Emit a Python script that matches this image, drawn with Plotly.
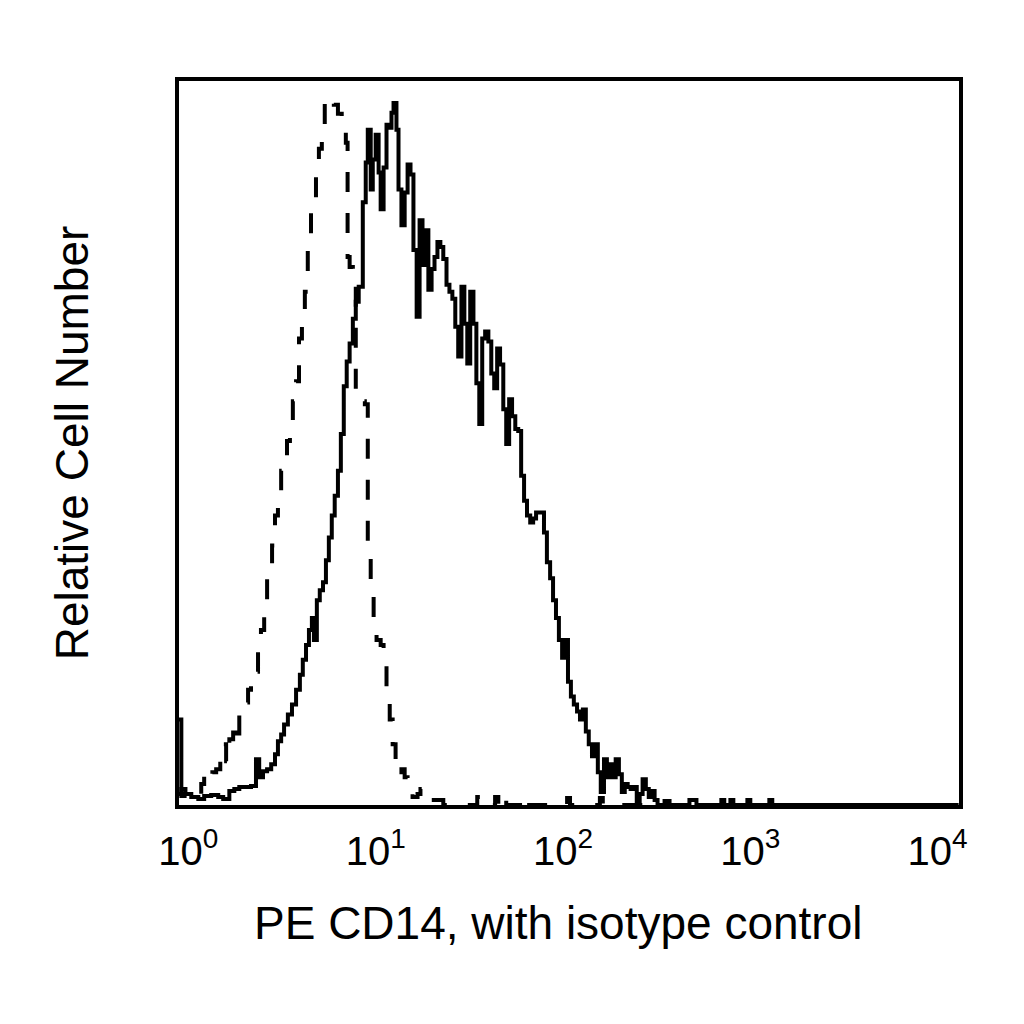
import plotly.graph_objects as go

# histogram channels (256 channels over 4 decades), relative counts
cd14_channel = [-3.4, -2.4, -1.4, 1.0, 3.4, 5.4, 7.8, 10.2, 11.9, 14.0, 15.7, 17.4, 19.7, 21.4,
                23.1, 24.2, 25.5, 26.9, 28.3, 29.6, 30.6, 31.7, 32.7, 34.0, 35.4, 36.8, 38.1,
                39.1, 40.2, 41.2, 42.2, 42.9, 43.9, 44.9, 46.0, 47.0, 48.0, 49.0, 50.0, 51.1,
                52.1, 53.1, 54.1, 55.1, 56.2, 57.2, 58.2, 59.6, 60.6, 61.3, 62.3, 63.0, 64.0,
                65.0, 65.7, 66.7, 67.7, 68.8, 69.4, 70.1, 71.1, 71.8, 72.8, 73.9, 74.9, 75.9,
                76.9, 78.0, 79.0, 80.0, 81.0, 82.0, 83.1, 84.1, 85.1, 86.1, 87.1, 88.2, 89.2,
                90.2, 91.2, 92.2, 93.3, 94.3, 95.3, 96.3, 97.4, 98.4, 99.4, 100.4, 101.4, 102.5,
                103.5, 104.5, 105.5, 106.5, 107.6, 108.6, 109.6, 110.6, 111.7, 112.7, 113.7,
                114.7, 115.7, 116.8, 117.8, 118.8, 120.2, 121.5, 122.5, 123.6, 124.6, 125.6,
                126.6, 127.7, 128.7, 129.7, 130.7, 131.7, 132.8, 133.8, 134.8, 135.8, 136.8,
                137.9, 138.9, 139.9, 140.9, 142.0, 143.0, 144.0, 145.0, 146.0, 147.1, 148.1,
                149.1, 150.1, 151.1, 152.2, 153.2, 154.2, 155.2, 156.3, 157.3, 158.3, 159.3,
                160.3, 162.7, 164.4, 171.2, 173.6, 182.1, 183.1, 185.2, 186.2, 191.0, 192.0,
                198.5, 199.5, 263.1]
cd14_count = [86, 9, 11, 8, 6, 9, 10, 8, 6, 14, 16, 18, 18, 19,
              46, 28, 34, 36, 41, 51, 64, 71, 81, 91, 101, 116, 131,
              146, 161, 176, 188, 166, 206, 216, 224, 246, 269, 291, 311, 336,
              373, 421, 446, 464, 489, 506, 521, 606, 646, 679, 619, 649, 674,
              636, 599, 641, 684, 681, 696, 706, 679, 619, 583, 616, 644, 634,
              558, 491, 588, 543, 578, 518, 539, 551, 566, 561, 549, 523, 516,
              509, 481, 451, 521, 484, 444, 516, 484, 424, 383, 469, 476, 466,
              434, 419, 459, 443, 398, 363, 408, 391, 378, 376, 331,
              306, 291, 284, 288, 294, 294, 274, 244, 228, 206, 188,
              166, 148, 166, 124, 109, 101, 94, 86, 96, 74,
              61, 49, 61, 33, 13, 46, 28, 41, 28, 46, 31,
              13, 21, 18, 16, 18, 0, 11, 26, 16, 8, 14,
              5, 0, 4, 0, 5, 0, 5, 0, 5, 0, 5,
              0, 5, 0, 0]

isotype_channel = [-3.4, -2.4, -1.0, 1.0, 3.4, 4.4, 5.4, 6.8, 8.2, 9.5, 10.9, 11.9, 12.9, 14.0,
                   15.3, 16.3, 17.4, 18.4, 19.4, 20.4, 21.4, 22.8, 23.8, 24.8, 25.9, 26.9,
                   27.9, 28.6, 29.6, 30.6, 31.7, 32.7, 33.7, 34.7, 35.7, 36.8, 37.8, 38.8,
                   39.8, 40.8, 41.9, 42.9, 43.6, 44.6, 45.6, 46.6, 47.7, 48.7, 49.7, 51.1,
                   52.4, 53.1, 53.8, 54.4, 55.1, 56.2, 57.2, 58.2, 59.2, 60.3, 61.3, 62.3, 63.3,
                   64.3, 65.7, 66.7, 67.7, 68.8, 69.8, 70.8, 71.8, 72.8, 73.9, 74.9, 76.6,
                   78.3, 79.3, 80.6, 82.7, 87.1, 98.7, 99.7, 104.8, 105.9, 107.6, 108.6,
                   114.4, 115.4, 129.4, 130.4, 140.6, 141.6, 263.1]
isotype_count = [11, 16, 9, 11, 9, 21, 31, 26, 33, 36, 46, 61, 44, 66,
                 73, 61, 91, 96, 103, 116, 126, 134, 156, 176, 206, 228,
                 239, 261, 291, 306, 336, 346, 366, 376, 406, 426, 469, 496,
                 516, 566, 596, 611, 636, 660, 680, 705, 711, 708, 704, 695,
                 686, 676, 666, 551, 541, 531, 416, 411, 406, 403, 256, 216, 176,
                 166, 161, 146, 116, 86, 61, 41, 31, 36, 28, 16, 8,
                 11, 16, 9, 5, 0, 8, 0, 8, 0, 8, 0,
                 8, 0, 7, 0, 7, 0, 0]

decade_channels = [0, 64, 128, 192, 256]
decade_labels = ["10<sup>0</sup>", "10<sup>1</sup>", "10<sup>2</sup>", "10<sup>3</sup>", "10<sup>4</sup>"]

fig = go.Figure()
fig.add_trace(go.Scatter(x=isotype_channel, y=isotype_count, mode="lines", line_shape="hv",
                         line=dict(color="black", width=4, dash="20px,21px"), name="isotype control"))
fig.add_trace(go.Scatter(x=cd14_channel, y=cd14_count, mode="lines", line_shape="hv",
                         line=dict(color="black", width=4), name="PE CD14"))

font = "Liberation Sans, Arial, sans-serif"
fig.update_layout(
    width=1008, height=1008, showlegend=False,
    paper_bgcolor="white", plot_bgcolor="white",
    margin=dict(l=171, r=57, t=73, b=211),
    font=dict(family=font, color="black"),
    xaxis=dict(range=[-3.2, 263.3], tickvals=decade_channels, ticktext=decade_labels,
               ticks="", ticklabelstandoff=8, tickfont=dict(size=40),
               showgrid=False, zeroline=False, showline=True, linecolor="black",
               linewidth=4, mirror=True),
    yaxis=dict(range=[0, 728], showticklabels=False, ticks="", showgrid=False, zeroline=False,
               showline=True, linecolor="black", linewidth=4, mirror=True,
               title=dict(text="Relative Cell Number", font=dict(size=46), standoff=73)),
    annotations=[dict(text="PE CD14, with isotype control", xref="paper", yref="paper",
                      x=0.487, y=-0.163, xanchor="center", yanchor="middle",
                      showarrow=False, font=dict(size=46))],
)

fig.write_html("out.html")
